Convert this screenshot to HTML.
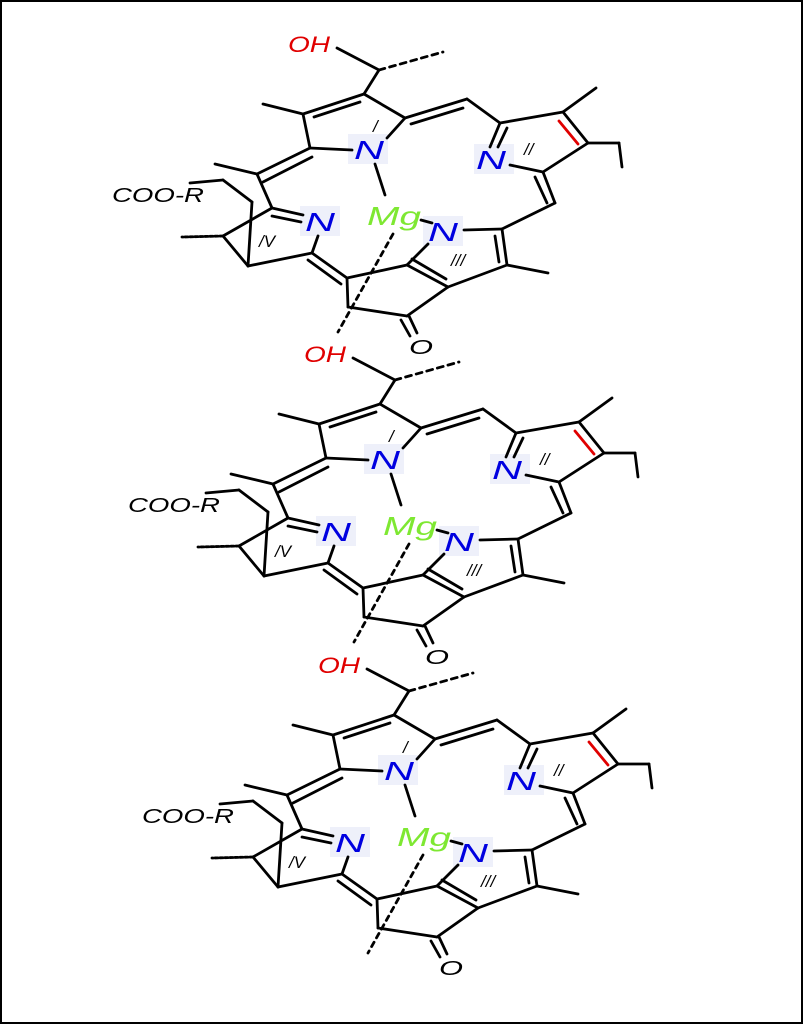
<!DOCTYPE html>
<html><head><meta charset="utf-8"><style>
html,body{margin:0;padding:0;background:#fff}
svg{display:block}
text{font-family:"Liberation Sans",sans-serif;font-style:italic}
</style></head><body>
<svg width="803" height="1024" viewBox="0 0 803 1024" xmlns="http://www.w3.org/2000/svg">
<rect x="1" y="1" width="801" height="1022" fill="none" stroke="#000" stroke-width="2"/>
<defs>
<g id="mol" stroke="#000" stroke-width="2.8" fill="none" stroke-linecap="round">
  <rect x="348" y="134" width="40" height="30" fill="#eef0fa" stroke="none"/>
  <rect x="474" y="144" width="40" height="30" fill="#eef0fa" stroke="none"/>
  <rect x="300" y="206" width="40" height="30" fill="#eef0fa" stroke="none"/>
  <rect x="423" y="216" width="40" height="30" fill="#eef0fa" stroke="none"/>
  <line x1="337" y1="48" x2="379" y2="70"/>
  <line x1="379" y1="70" x2="443" y2="52" stroke-dasharray="6,5"/>
  <line x1="379" y1="70" x2="364" y2="94"/>
  <line x1="364" y1="94" x2="303" y2="114"/>
  <line x1="360" y1="102" x2="314" y2="117"/>
  <line x1="303" y1="114" x2="310" y2="148"/>
  <line x1="310" y1="148" x2="352" y2="150"/>
  <line x1="364" y1="94" x2="405" y2="118"/>
  <line x1="405" y1="118" x2="387" y2="138"/>
  <line x1="303" y1="114" x2="263" y2="104"/>
  <line x1="405" y1="118" x2="467" y2="99"/>
  <line x1="411" y1="124" x2="463" y2="108"/>
  <line x1="467" y1="99" x2="500" y2="123"/>
  <line x1="500" y1="123" x2="563" y2="112"/>
  <line x1="563" y1="112" x2="588" y2="143"/>
  <line x1="559" y1="121" x2="578" y2="144" stroke="#e00000"/>
  <line x1="588" y1="143" x2="543" y2="172"/>
  <line x1="543" y1="172" x2="510" y2="165"/>
  <line x1="500" y1="123" x2="490" y2="147"/>
  <line x1="507" y1="128" x2="498" y2="147"/>
  <line x1="563" y1="112" x2="596" y2="88"/>
  <line x1="588" y1="143" x2="619" y2="143"/>
  <line x1="619" y1="143" x2="622" y2="167"/>
  <line x1="543" y1="172" x2="555" y2="203"/>
  <line x1="535" y1="177" x2="547" y2="203"/>
  <line x1="555" y1="203" x2="502" y2="229"/>
  <line x1="502" y1="229" x2="464" y2="230"/>
  <line x1="502" y1="229" x2="507" y2="265"/>
  <line x1="495" y1="236" x2="499" y2="262"/>
  <line x1="507" y1="265" x2="448" y2="287"/>
  <line x1="448" y1="287" x2="407" y2="265"/>
  <line x1="446" y1="279" x2="412" y2="259"/>
  <line x1="407" y1="265" x2="428" y2="244"/>
  <line x1="507" y1="265" x2="548" y2="273"/>
  <line x1="448" y1="287" x2="407" y2="316"/>
  <line x1="407" y1="316" x2="348" y2="307"/>
  <line x1="348" y1="307" x2="347" y2="278"/>
  <line x1="347" y1="278" x2="407" y2="265"/>
  <line x1="401" y1="320" x2="410" y2="336"/>
  <line x1="409" y1="316" x2="417" y2="333"/>
  <line x1="347" y1="278" x2="312" y2="253"/>
  <line x1="341" y1="284" x2="308" y2="260"/>
  <line x1="312" y1="253" x2="318" y2="236"/>
  <line x1="312" y1="253" x2="248" y2="266"/>
  <line x1="248" y1="266" x2="223" y2="236"/>
  <line x1="223" y1="236" x2="272" y2="208"/>
  <line x1="272" y1="208" x2="303" y2="215"/>
  <line x1="272" y1="216" x2="301" y2="222"/>
  <line x1="223" y1="236" x2="182" y2="237" stroke-dasharray="3,2"/>
  <line x1="248" y1="266" x2="252" y2="202"/>
  <line x1="252" y1="202" x2="223" y2="180"/>
  <line x1="223" y1="180" x2="190" y2="183"/>
  <line x1="272" y1="208" x2="257" y2="174"/>
  <line x1="257" y1="174" x2="310" y2="148"/>
  <line x1="263" y1="182" x2="312" y2="157"/>
  <line x1="257" y1="174" x2="215" y2="164"/>
  <line x1="375" y1="164" x2="385" y2="195"/>
  <line x1="421" y1="220" x2="432" y2="223"/>
  <line x1="393" y1="234" x2="338" y2="332" stroke-dasharray="5,5"/>
  <g stroke="none" font-size="22">
    <text x="288" y="52" fill="#e00000" textLength="42" lengthAdjust="spacingAndGlyphs">OH</text>
    <text x="354" y="159" fill="#0000e0" font-size="26" textLength="30" lengthAdjust="spacingAndGlyphs">N</text>
    <text x="476" y="169" fill="#0000e0" font-size="26" textLength="30" lengthAdjust="spacingAndGlyphs">N</text>
    <text x="305" y="231" fill="#0000e0" font-size="26" textLength="30" lengthAdjust="spacingAndGlyphs">N</text>
    <text x="428" y="241" fill="#0000e0" font-size="26" textLength="30" lengthAdjust="spacingAndGlyphs">N</text>
    <text x="367" y="225" fill="#7ee832" font-size="26" textLength="54" lengthAdjust="spacingAndGlyphs">Mg</text>
    <text x="409" y="354" fill="#000" font-size="20" textLength="24" lengthAdjust="spacingAndGlyphs">O</text>
    <text x="112" y="202" fill="#000" font-size="20" textLength="92" lengthAdjust="spacingAndGlyphs">COO-R</text>
    <text x="373" y="132" fill="#000" font-size="17">/</text>
    <text x="524" y="155" fill="#000" font-size="17">//</text>
    <text x="451" y="266" fill="#000" font-size="17">///</text>
    <text x="259" y="247" fill="#000" font-size="17">/V</text>
  </g>
</g>
</defs>
<use href="#mol" transform="translate(0,0)"/>
<use href="#mol" transform="translate(16,310)"/>
<use href="#mol" transform="translate(30,621)"/>
<rect x="330" y="950" width="30" height="30" fill="#fff"/>
</svg>
</body></html>
